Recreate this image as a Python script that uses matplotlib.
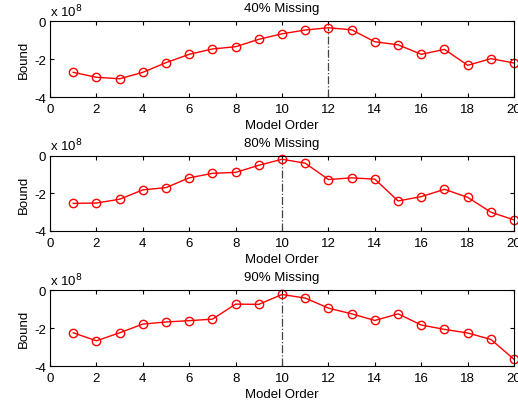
import matplotlib.pyplot as plt

plt.rcParams['font.family'] = ['Liberation Sans', 'DejaVu Sans']
plt.rcParams['font.size'] = 9.5
plt.rcParams['axes.unicode_minus'] = False

orders = list(range(1, 21))

bound_40 = [-2.70, -2.96, -3.04, -2.70, -2.19, -1.75, -1.47, -1.35, -0.96, -0.67,
            -0.47, -0.35, -0.46, -1.09, -1.25, -1.75, -1.49, -2.33, -1.98, -2.21]
bound_80 = [-2.53, -2.51, -2.31, -1.81, -1.69, -1.17, -0.93, -0.88, -0.50, -0.18,
            -0.39, -1.26, -1.17, -1.24, -2.40, -2.17, -1.78, -2.21, -3.00, -3.41]
bound_90 = [-2.25, -2.67, -2.25, -1.79, -1.68, -1.61, -1.53, -0.74, -0.75, -0.23,
            -0.42, -0.95, -1.25, -1.60, -1.25, -1.84, -2.07, -2.26, -2.60, -3.65]

titles = ['40% Missing', '80% Missing', '90% Missing']
best_order = [12, 10, 10]
series = [bound_40, bound_80, bound_90]

fig = plt.figure(figsize=(5.18, 4.06), dpi=100)
positions = [[0.0965, 0.7586, 0.896, 0.187],
             [0.0965, 0.4286, 0.896, 0.185],
             [0.0965, 0.0960, 0.896, 0.187]]

for pos, vals, title, best in zip(positions, series, titles, best_order):
    ax = fig.add_axes(pos)
    ax.vlines(best, -4, vals[best - 1], colors='#444444', linestyles='-.', linewidth=0.9)
    ax.plot(orders, vals, color='red', marker='o', markerfacecolor='none',
            markersize=6, linewidth=1, markeredgewidth=1, clip_on=False)
    ax.set_xlim(0, 20)
    ax.set_ylim(-4, 0)
    ax.set_xticks(range(0, 21, 2))
    ax.set_yticks([-4, -2, 0])
    ax.tick_params(direction='in', top=True, right=True, length=3, width=0.8)
    ax.tick_params(axis='x', pad=4)
    ax.tick_params(axis='y', pad=3)
    ax.set_title(title, fontsize=9.5, pad=7)
    ax.set_xlabel('Model Order', labelpad=3)
    ax.set_ylabel('Bound', labelpad=3)
    ax.text(0.0, 1.03, r'x 10$^{8}$', transform=ax.transAxes, fontsize=9.5, va='bottom')
    for s in ax.spines.values():
        s.set_linewidth(0.8)

plt.savefig('out.png', dpi=100)
